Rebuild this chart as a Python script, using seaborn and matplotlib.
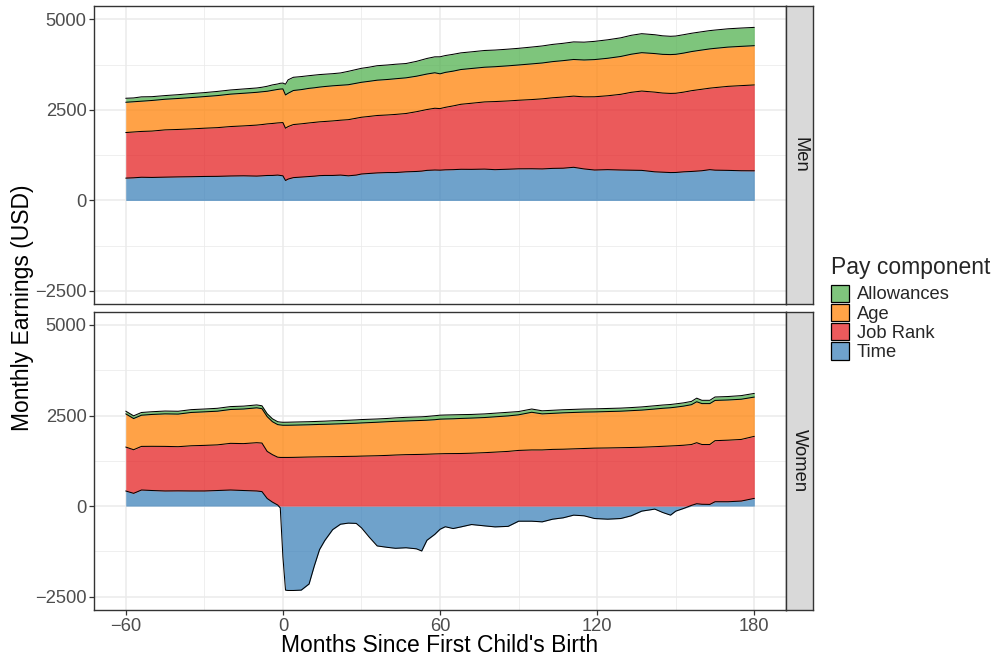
import numpy as np
import pandas as pd
import matplotlib
matplotlib.use("Agg")
import matplotlib.pyplot as plt
from matplotlib.patches import Patch
import seaborn as sns

# Months relative to the first child's birth
months = [-60, -57, -54, -50, -45, -40, -35, -30, -25, -20, -15, -10, -8, -6, -4, -2, -1,
          0, 1, 2, 4, 7, 10, 12, 14, 16, 19, 22, 25, 28, 30, 33, 36, 40, 43, 47, 51, 53,
          55, 58, 60, 62, 65, 68, 72, 77, 81, 86, 90, 95, 99, 103, 107, 111, 115, 119,
          124, 129, 133, 137, 142, 145, 148, 150, 153, 156, 158, 160, 163, 165, 170, 175, 180]

# Men: monthly pay components (USD)
men_time = [616, 625, 640, 635, 643, 650, 655, 662, 665, 675, 680, 672, 680, 689, 690, 700, 690,
            680, 551, 590, 630, 645, 660, 670, 685, 690, 690, 700, 680, 700, 730, 745, 760, 770,
            770, 790, 800, 810, 830, 840, 836, 845, 850, 860, 858, 865, 850, 862, 873, 875, 870,
            885, 890, 915, 870, 840, 850, 840, 835, 830, 790, 780, 770, 772, 790, 800, 810, 820,
            850, 836, 830, 820, 818]
men_rank = [1259, 1265, 1265, 1280, 1305, 1310, 1320, 1332, 1345, 1365, 1378, 1408, 1415, 1424,
            1435, 1440, 1455, 1470, 1443, 1450, 1465, 1470, 1480, 1485, 1485, 1490, 1505, 1515,
            1550, 1570, 1567, 1575, 1585, 1590, 1605, 1610, 1650, 1670, 1680, 1705, 1700, 1725,
            1760, 1795, 1825, 1855, 1880, 1885, 1893, 1910, 1935, 1950, 1965, 1965, 1990, 2022,
            2040, 2090, 2150, 2190, 2200, 2185, 2185, 2187, 2200, 2230, 2240, 2250, 2250, 2279,
            2320, 2350, 2371]
men_age = [836, 835, 835, 845, 846, 855, 865, 873, 885, 895, 901, 905, 905, 901, 915, 925, 930,
           929, 919, 920, 940, 945, 955, 955, 960, 965, 970, 965, 965, 965, 965, 970, 975, 980,
           985, 985, 980, 980, 980, 980, 960, 965, 960, 960, 960, 958, 962, 970, 974, 985, 990,
           998, 1005, 1012, 1018, 1027, 1035, 1045, 1052, 1060, 1065, 1068, 1072, 1075, 1078,
           1080, 1082, 1083, 1084, 1084, 1084, 1084, 1084]
men_allow = [110, 105, 120, 105, 101, 105, 110, 110, 115, 115, 119, 120, 125, 138, 150, 150, 160,
             161, 297, 370, 365, 360, 350, 350, 345, 340, 335, 340, 370, 380, 386, 390, 400, 400,
             400, 395, 410, 420, 430, 440, 470, 465, 465, 460, 460, 462, 460, 460, 460, 465, 470,
             475, 478, 485, 492, 503, 510, 515, 522, 524, 520, 512, 505, 505, 508, 505, 505, 505,
             505, 505, 505, 506, 505]

# Women: monthly pay components (USD)
women_time = [417, 352, 444, 430, 417, 420, 417, 417, 430, 444, 430, 417, 400, 210, 110, 30, -50,
              -1400, -2320, -2330, -2330, -2320, -2150, -1650, -1200, -950, -650, -500, -470,
              -478, -600, -860, -1100, -1140, -1165, -1150, -1180, -1240, -944, -780, -640, -570,
              -620, -574, -509, -546, -574, -560, -417, -417, -435, -361, -324, -250, -268, -343,
              -361, -343, -268, -139, -83, -176, -250, -139, -65, 20, 65, 50, 46, 120, 120, 139, 213]
women_rank = [1213, 1204, 1204, 1220, 1231, 1220, 1248, 1259, 1260, 1288, 1295, 1333, 1340, 1300,
              1310, 1320, 1343, 1343, 1343, 1343, 1345, 1350, 1355, 1357, 1360, 1362, 1365, 1368,
              1372, 1375, 1380, 1385, 1390, 1400, 1410, 1420, 1425, 1428, 1432, 1440, 1444, 1448,
              1450, 1452, 1460, 1475, 1490, 1510, 1537, 1550, 1550, 1565, 1570, 1580, 1590, 1600,
              1605, 1612, 1618, 1625, 1640, 1650, 1660, 1667, 1680, 1680, 1685, 1650, 1654, 1686,
              1700, 1701, 1713]
women_age = [916, 861, 861, 880, 898, 900, 920, 926, 930, 935, 955, 963, 950, 960, 910, 900, 897,
             889, 889, 889, 890, 890, 890, 893, 895, 896, 900, 904, 908, 913, 916, 920, 925, 930,
             930, 930, 935, 937, 940, 945, 956, 957, 960, 968, 970, 970, 975, 980, 983, 1040, 996,
             995, 1005, 1005, 1005, 1000, 1005, 1008, 1017, 1025, 1040, 1050, 1055, 1065, 1080,
             1100, 1130, 1130, 1130, 1111, 1110, 1110, 1084]
women_allow = [75, 75, 75, 75, 78, 78, 78, 78, 80, 80, 80, 80, 80, 80, 80, 80, 80, 82, 83, 84, 85,
               85, 85, 85, 85, 87, 90, 90, 90, 92, 93, 92, 90, 90, 95, 100, 100, 100, 103, 110,
               110, 110, 110, 105, 100, 100, 100, 100, 90, 90, 85, 85, 85, 85, 85, 85, 85, 85, 85,
               88, 90, 90, 90, 90, 90, 90, 100, 90, 90, 95, 95, 100, 101]

components = ["Time", "Job Rank", "Age", "Allowances"]
colors = {"Time": "#377EB8", "Job Rank": "#E41A1C", "Age": "#FF7F00", "Allowances": "#4DAF4A"}
fill_alpha = 0.72

panels = {
    "Men": dict(zip(components, [men_time, men_rank, men_age, men_allow])),
    "Women": dict(zip(components, [women_time, women_rank, women_age, women_allow])),
}
for p in panels.values():
    for v in p.values():
        assert len(v) == len(months)

sns.set_theme(style="white")
plt.rcParams["font.family"] = ["Liberation Sans", "DejaVu Sans"]

fig = plt.figure(figsize=(9.96, 6.61), dpi=100)
ax_left, ax_w = 0.0947, 0.6942
ax_h = 0.4513
bottoms = {"Men": 0.5396, "Women": 0.0772}

grey20 = "#333333"
grey30 = "#4D4D4D"
grid_col = "#EBEBEB"
x = np.array(months, dtype=float)

for name, series in panels.items():
    ax = fig.add_axes([ax_left, bottoms[name], ax_w, ax_h])
    ax.set_xlim(-72, 192)
    ax.set_ylim(-2868, 5368)

    # Stack positive and negative values separately, in component order
    pos_base = np.zeros_like(x)
    neg_base = np.zeros_like(x)
    rows = []
    for comp in components:
        v = np.array(series[comp], dtype=float)
        lower = np.where(v >= 0, pos_base, neg_base + v)
        upper = np.where(v >= 0, pos_base + v, neg_base)
        edge = np.where(v >= 0, upper, lower)
        pos_base = np.where(v >= 0, pos_base + v, pos_base)
        neg_base = np.where(v < 0, neg_base + v, neg_base)
        ax.fill_between(x, lower, upper, facecolor=colors[comp], alpha=fill_alpha,
                        linewidth=0, zorder=2)
        rows.append(pd.DataFrame({"month": x, "edge": edge, "component": comp}))
    edges = pd.concat(rows, ignore_index=True)
    sns.lineplot(data=edges, x="month", y="edge", units="component", estimator=None,
                 color="black", linewidth=0.75, sort=False, ax=ax, zorder=3, legend=False)

    # theme_bw-like panel
    ax.set_xticks([-60, 0, 60, 120, 180])
    ax.set_xticks([-30, 30, 90, 150], minor=True)
    ax.set_yticks([-2500, 0, 2500, 5000])
    ax.set_yticks([-1250, 1250, 3750], minor=True)
    ax.grid(True, which="major", color=grid_col, linewidth=1.1, zorder=0)
    ax.grid(True, which="minor", color=grid_col, linewidth=0.55, zorder=0)
    ax.set_axisbelow(True)
    for s in ax.spines.values():
        s.set_color(grey20)
        s.set_linewidth(1.0)
        s.set_visible(True)
    ax.tick_params(which="major", length=3.5, width=0.9, color=grey20,
                   labelsize=13.2, labelcolor=grey30, pad=2,
                   bottom=True, left=True)
    ax.tick_params(which="minor", length=0, bottom=False, left=False)
    ax.set_yticklabels(["\u22122500", "0", "2500", "5000"])
    ax.set_xlabel("")
    ax.set_ylabel("")
    if name == "Men":
        ax.tick_params(axis="x", which="major", bottom=False, labelbottom=False)
    else:
        ax.set_xticklabels(["\u221260", "0", "60", "120", "180"])

    # facet strip on the right
    sax = fig.add_axes([ax_left + ax_w, bottoms[name], 0.0277, ax_h])
    sax.set_facecolor("#D9D9D9")
    sax.set_xticks([])
    sax.set_yticks([])
    for s in sax.spines.values():
        s.set_color(grey20)
        s.set_linewidth(1.0)
        s.set_visible(True)
    sax.text(0.5, 0.5, name, rotation=-90, ha="center", va="center",
             fontsize=13.2, color="#1A1A1A", transform=sax.transAxes)

fig.text(22 / 996, 1 - 308 / 661, "Monthly Earnings (USD)", rotation=90,
         ha="center", va="center", fontsize=16.5, color="black")
fig.text(440 / 996, 1 - 646 / 661, "Months Since First Child's Birth",
         ha="center", va="center", fontsize=16.5, color="black")

legend_order = ["Allowances", "Age", "Job Rank", "Time"]
handles = []
for c in legend_order:
    fc = np.array(matplotlib.colors.to_rgb(colors[c]))
    fc = tuple(fill_alpha * fc + (1 - fill_alpha))
    handles.append(Patch(facecolor=fc, edgecolor="black", linewidth=0.9))
leg = fig.legend(handles, legend_order,
                 title="Pay component", loc="upper left",
                 bbox_to_anchor=(831 / 996, 1 - 256 / 661), frameon=False,
                 fontsize=13.2, title_fontsize=16.5, handlelength=1.0,
                 handleheight=1.08, labelspacing=0.02, handletextpad=0.4,
                 borderpad=0, borderaxespad=0)
leg._legend_box.align = "left"
leg._legend_box.sep = 4

fig.savefig("out.png", dpi=100)
